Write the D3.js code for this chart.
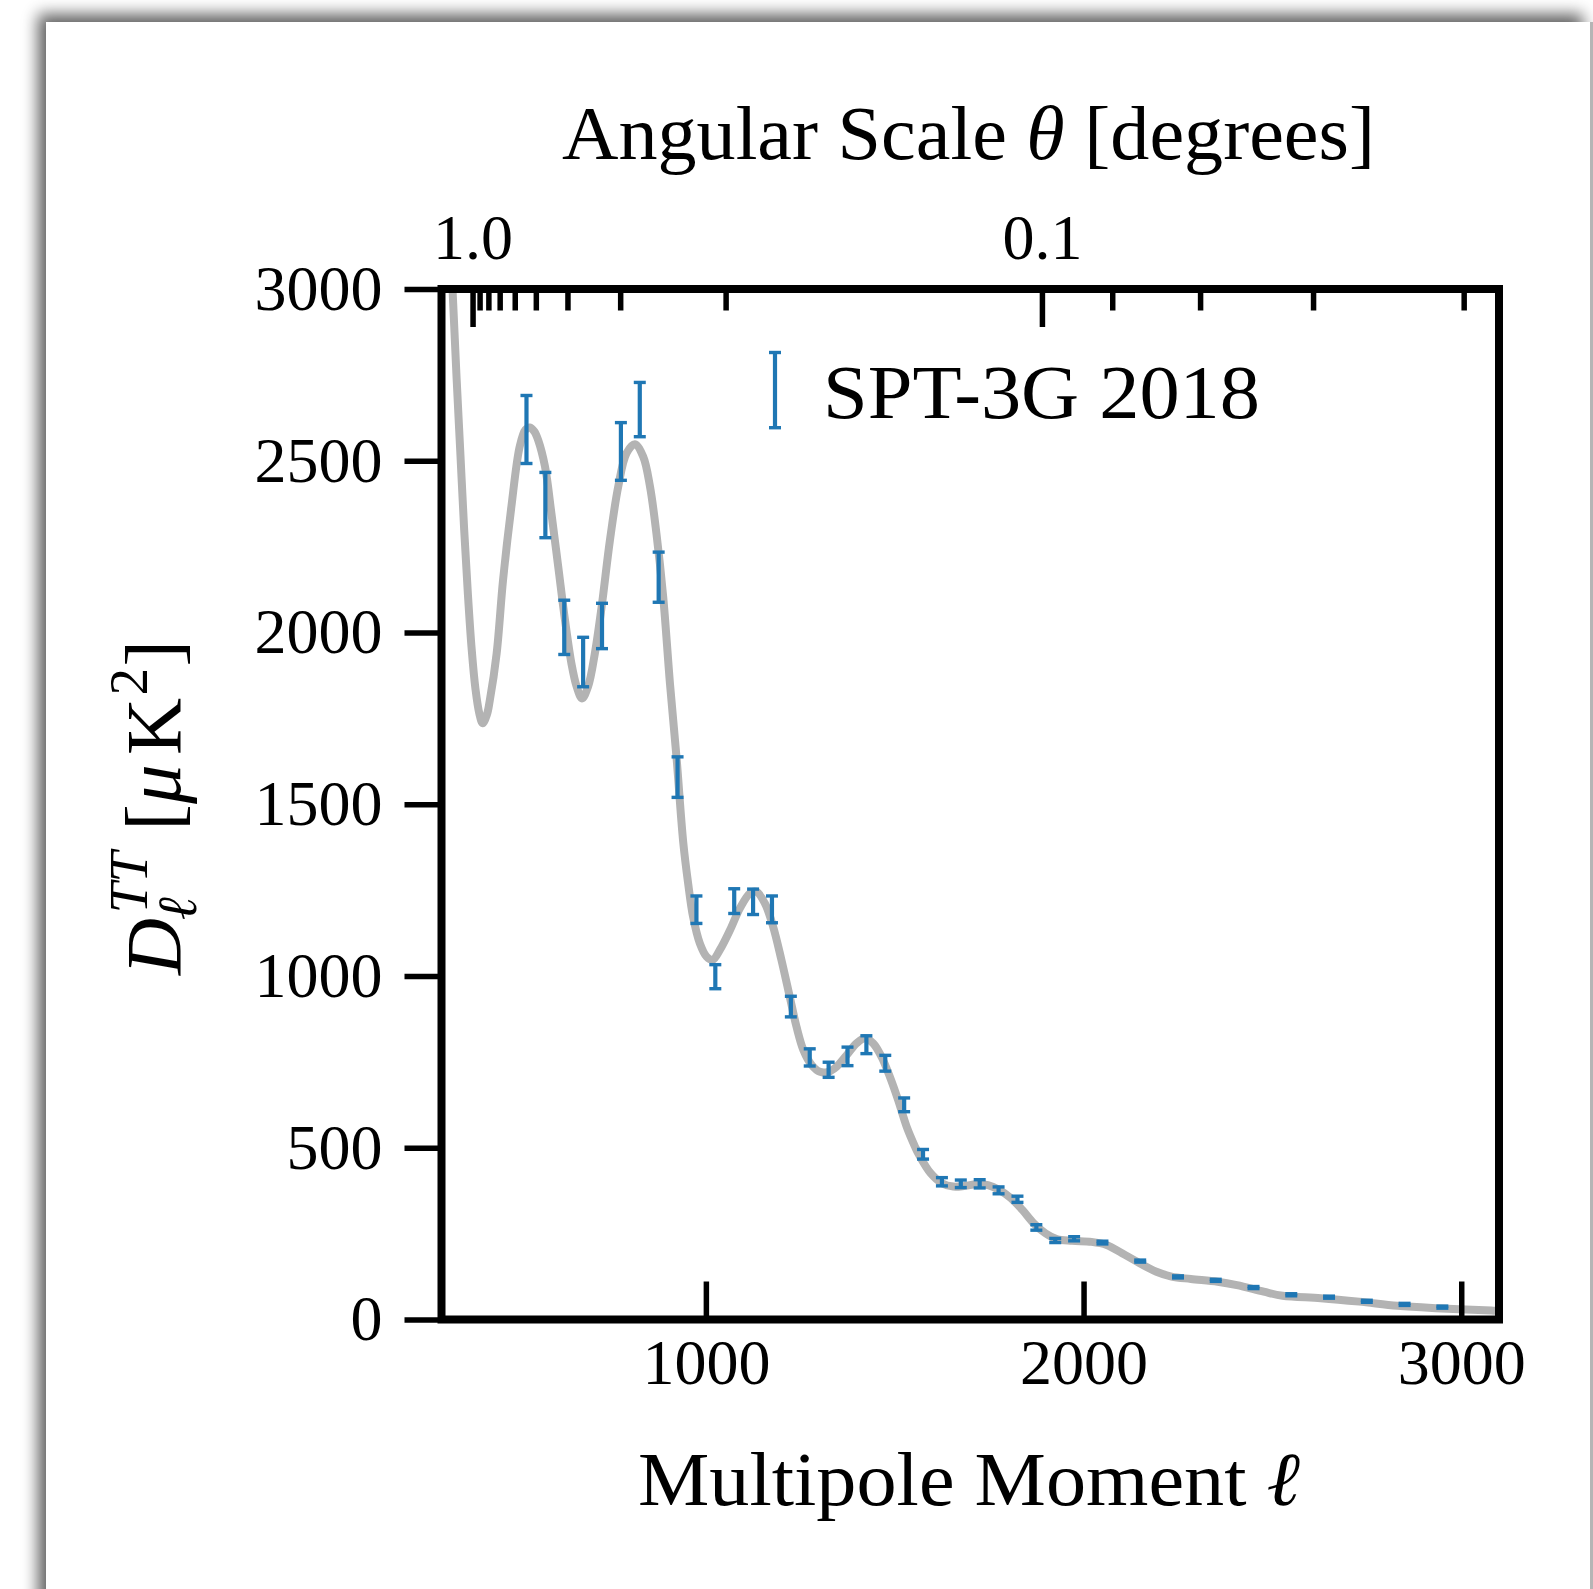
<!DOCTYPE html>
<html><head><meta charset="utf-8">
<script src="https://cdn.jsdelivr.net/npm/d3@7"></script>
<style>
html,body{margin:0;padding:0;background:#fff;}
svg{display:block;}
text{font-family:"Liberation Serif","DejaVu Serif",serif;fill:#000;}
</style></head><body>
<svg id="chart" width="1593" height="1589"></svg>
<script>
// ---------------- data ----------------
const theoryCurve = [
 [310,3550],[320,3250],[330,2980],[340,2740],[350,2520],[360,2300],[370,2110],[380,1950],[390,1835],[400,1765],
 [409,1736],[420,1760],[428,1803],[446,1939],[463,2153],[485,2366],[507,2541],[522,2590],[534,2597],[546,2585],
 [556,2560],[574,2483],[591,2347],[609,2192],[627,2036],[644,1910],[658,1842],[672,1808],[688,1842],[706,1939],
 [724,2075],[746,2269],[768,2425],[790,2522],[812,2548],[834,2512],[852,2425],[869,2289],[887,2104],[905,1850],
 [922,1640],[940,1390],[953,1270],[966,1173],[984,1095],[1002,1056],[1018,1047],[1037,1076],[1064,1134],[1090,1197],
 [1117,1241],[1134,1245],[1156,1212],[1178,1144],[1200,1047],[1222,940],[1240,852],[1258,785],[1280,741],[1302,721],
 [1324,721],[1346,736],[1373,770],[1399,804],[1421,819],[1443,804],[1465,765],[1487,707],[1509,639],[1532,560],
 [1553,505],[1564,480],[1595,426],[1625,397],[1655,387],[1686,389],[1716,394],[1747,391],[1777,377],[1808,353],
 [1838,319],[1868,280],[1899,251],[1929,234],[1970,229],[2021,226],[2061,217],[2102,193],[2142,168],[2193,139],
 [2233,125],[2284,118],[2355,110],[2406,100],[2477,81],[2527,69],[2628,62],[2730,52],[2831,40],[2933,33],
 [3080,26],[3110,25]
];
const bandEll = [525,575,625,675,725,775,825,875,925,975,1025,1075,1125,1175,1225,1275,1325,1375,1425,1475,
                 1525,1575,1625,1675,1725,1775,1825,1875,1925,1975,2050,2150,2250,2350,2450,2550,2650,2750,2850,2950];
const bandDl  = [2591,2371,2015,1914,2019,2527,2649,2161,1579,1193,998,1218,1216,1194,911,763,727,766,800,746,
                 625,481,401,395,395,376,350,268,230,235,224,170,124,114,93,72,65,53,44,36];
const bandErr = [99,95,79,72,66,84,79,73,59,40,35,36,37,39,30,25,22,27,26,23,
                 20,14,12,11,12,10,9,8,6,6,4,3,3,3,3,3,3,3,3,3];
const yTickValues = [0,500,1000,1500,2000,2500,3000];
const xTickValues = [1000,2000,3000];
const thetaMajor = [1.0, 0.1];
const thetaMinor = [0.9,0.8,0.7,0.6,0.5,0.4,0.3,0.2,0.09,0.08,0.07,0.06];
const legendLabel = "SPT-3G 2018";
const xDomain = [300, 3100];
const yDomain = [0, 3000];
const invThetaDomain = [0.509, 17.225];   // top axis is linear in 1/theta

// ---------------- layout ----------------
const svg = d3.select('#chart');
const m = {left:441.5, right:1499, top:289, bottom:1319.5};
const x = d3.scaleLinear().domain(xDomain).range([m.left, m.right]);
const y = d3.scaleLinear().domain(yDomain).range([m.bottom, m.top]);
const xTop = d3.scaleLinear().domain(invThetaDomain).range([m.left, m.right]);
const FONT = '"Liberation Serif","DejaVu Serif",serif';
const BLUE = '#1f77b4';

// page with shadow
const defs = svg.append('defs');
const flt = defs.append('filter').attr('id','shadow').attr('filterUnits','userSpaceOnUse')
  .attr('x',-100).attr('y',-100).attr('width',1900).attr('height',1900);
flt.append('feGaussianBlur').attr('stdDeviation',8);
svg.append('rect').attr('width',1593).attr('height',1589).attr('fill','#fff');
svg.append('rect').attr('x',38).attr('y',14).attr('width',1545).attr('height',1700)
  .attr('fill','#000').attr('opacity',0.62).attr('filter','url(#shadow)');
svg.append('rect').attr('x',46).attr('y',22).attr('width',1545).attr('height',1600).attr('fill','#fff');
svg.append('rect').attr('x',1590).attr('y',22).attr('width',3).attr('height',1567).attr('fill','#b5b5b5');

defs.append('clipPath').attr('id','plotclip').append('rect')
  .attr('x',m.left).attr('y',m.top).attr('width',m.right-m.left).attr('height',m.bottom-m.top);

// theory curve
const line = d3.line().x(d=>x(d[0])).y(d=>y(d[1])).curve(d3.curveCatmullRom.alpha(0.5));
svg.append('path').datum(theoryCurve).attr('clip-path','url(#plotclip)')
  .attr('d',line).attr('fill','none').attr('stroke','#b3b3b3').attr('stroke-width',8)
  .attr('stroke-linejoin','round');

// error bars
const bands = bandEll.map((l,i)=>({l, v:bandDl[i], e:bandErr[i]}));
const cap = 6;
const eb = svg.append('g').attr('stroke',BLUE).attr('stroke-width',4.2).attr('fill','none');
const gb = eb.selectAll('g').data(bands).join('g');
gb.append('line').attr('x1',d=>x(d.l)).attr('x2',d=>x(d.l)).attr('y1',d=>y(d.v-d.e)).attr('y2',d=>y(d.v+d.e));
gb.append('line').attr('x1',d=>x(d.l)-cap).attr('x2',d=>x(d.l)+cap).attr('y1',d=>y(d.v-d.e)).attr('y2',d=>y(d.v-d.e)).attr('stroke-width',3.4);
gb.append('line').attr('x1',d=>x(d.l)-cap).attr('x2',d=>x(d.l)+cap).attr('y1',d=>y(d.v+d.e)).attr('y2',d=>y(d.v+d.e)).attr('stroke-width',3.4);

// axes
function styleAxis(g, fs){
  g.attr('font-family',FONT).attr('font-size',fs);
  g.select('.domain').remove();
  g.selectAll('.tick line').attr('stroke','#000').attr('stroke-width',5.5);
  g.selectAll('.tick text').attr('fill','#000');
}
const gy = svg.append('g').attr('transform',`translate(${m.left},0)`)
  .call(d3.axisLeft(y).tickValues(yTickValues).tickSizeInner(37).tickSizeOuter(0).tickPadding(22).tickFormat(d3.format('d')));
styleAxis(gy,64);
const gx = svg.append('g').attr('transform',`translate(0,${m.bottom})`)
  .call(d3.axisBottom(x).tickValues(xTickValues).tickSizeInner(-38).tickSizeOuter(0).tickPadding(19).tickFormat(d3.format('d')));
styleAxis(gx,64);
const gt = svg.append('g').attr('transform',`translate(0,${m.top})`)
  .call(d3.axisTop(xTop).tickValues(thetaMajor.map(t=>1/t)).tickSizeInner(-38).tickSizeOuter(0).tickPadding(30)
    .tickFormat(d=>d3.format('.1f')(1/d)));
styleAxis(gt,64);
const gtm = svg.append('g').attr('transform',`translate(0,${m.top})`)
  .call(d3.axisTop(xTop).tickValues(thetaMinor.map(t=>1/t)).tickSizeInner(-21.5).tickSizeOuter(0).tickFormat(''));
styleAxis(gtm,64);

// frame
svg.append('rect').attr('x',m.left).attr('y',m.top).attr('width',m.right-m.left).attr('height',m.bottom-m.top)
  .attr('fill','none').attr('stroke','#000').attr('stroke-width',8);

// legend
const lgx = 775, lgy1 = 352.5, lgy2 = 427.7;
const lg = svg.append('g').attr('stroke',BLUE).attr('stroke-width',4.2);
lg.append('line').attr('x1',lgx).attr('x2',lgx).attr('y1',lgy1).attr('y2',lgy2);
lg.append('line').attr('x1',lgx-cap).attr('x2',lgx+cap).attr('y1',lgy1).attr('y2',lgy1).attr('stroke-width',3.4);
lg.append('line').attr('x1',lgx-cap).attr('x2',lgx+cap).attr('y1',lgy2).attr('y2',lgy2).attr('stroke-width',3.4);
svg.append('text').attr('x',823).attr('y',417.5).attr('font-size',76)
  .attr('textLength',437).attr('lengthAdjust','spacingAndGlyphs').text(legendLabel);

// titles
const title = svg.append('text').attr('x',968.5).attr('y',159).attr('font-size',76).attr('text-anchor','middle')
  .attr('textLength',813).attr('lengthAdjust','spacingAndGlyphs');
title.append('tspan').text('Angular Scale ');
title.append('tspan').attr('font-style','italic').text('θ');
title.append('tspan').text(' [degrees]');

const xl = svg.append('text').attr('x',969).attr('y',1505).attr('font-size',76).attr('text-anchor','middle')
  .attr('textLength',662).attr('lengthAdjust','spacingAndGlyphs');
xl.append('tspan').text('Multipole Moment ');
xl.append('tspan').attr('font-style','italic').text('ℓ');

// y label (rotated), built from pieces
function buildYLabel(F){
  const g = svg.append('g').attr('transform','translate(180,975) rotate(-90)');
  const add = (t, xx, opts={}) => {
    const el = g.append('text').attr('x',xx).attr('y',opts.dy||0).attr('font-size',opts.s?F*opts.s:F)
      .attr('font-style',opts.it?'italic':'normal').text(t);
    return el.node().getComputedTextLength();
  };
  let cx = 0;
  const wD = add('D',0,{it:true});
  const wTT = add('TT', wD+0.06*F, {it:true, s:0.7, dy:-0.42*F});
  const wl = add('ℓ', wD-0.03*F, {it:true, s:0.7, dy:0.2*F});
  cx = Math.max(wD+0.06*F+wTT, wD-0.03*F+wl) + 0.27*F;
  cx += add('[', cx);
  cx += add('μ', cx, {it:true}) + 0.12*F;
  cx += add('K', cx);
  cx += add('2', cx+0.03*F, {s:0.7, dy:-0.42*F}) + 0.05*F;
  cx += add(']', cx);
  return {g, w:cx};
}
let yl = buildYLabel(78);
const F2 = 78*335/yl.w;
yl.g.remove();
buildYLabel(F2);
</script>
</body></html>
